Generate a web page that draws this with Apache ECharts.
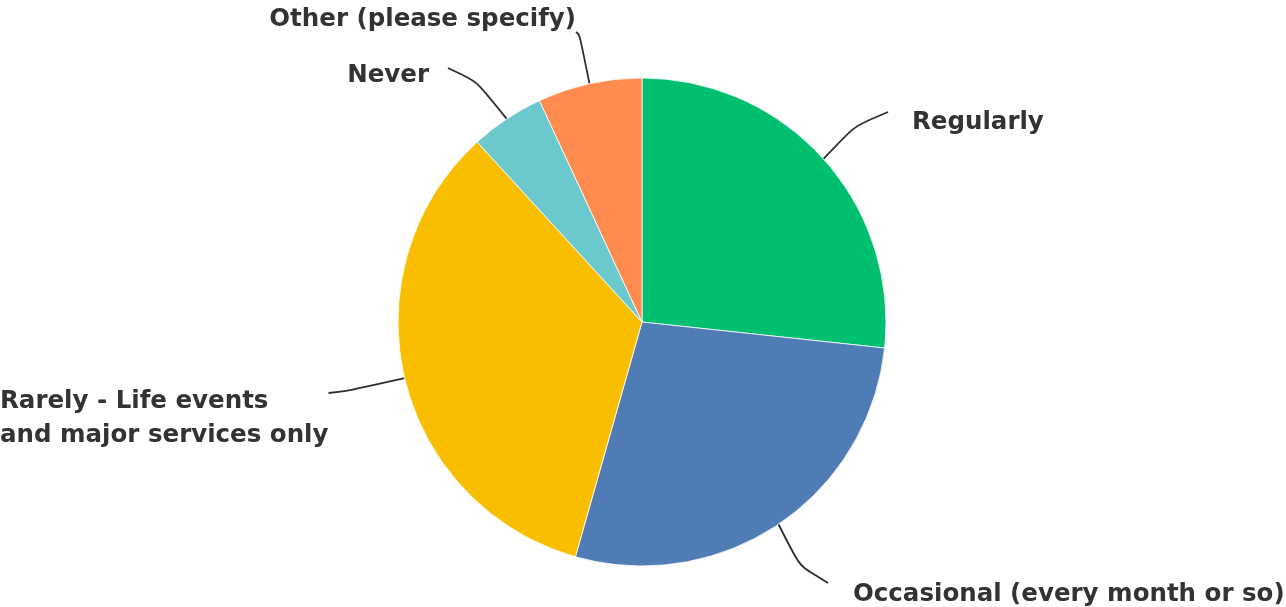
<!DOCTYPE html>
<html>
<head>
<meta charset="utf-8">
<script src="https://cdn.jsdelivr.net/npm/echarts@6/dist/echarts.min.js"></script>
<style>
  html, body { margin: 0; padding: 0; background: #ffffff; }
  #chart { width: 1286px; height: 607px; }
</style>
</head>
<body>
<div id="chart"></div>
<script>
// Answer options and share of responses (percent)
const categories = [
  'Regularly',
  'Occasional (every month or so)',
  'Rarely - Life events\nand major services only',
  'Never',
  'Other (please specify)'
];
const shares = [26.7, 27.7, 33.8, 4.9, 6.9];
const colors = ['#00BF6F', '#507CB6', '#F9BE00', '#6BC8CD', '#FF8B4F'];

// Label boxes (top-anchored); uneven padding sets where the leader line meets each box
const labelSpots = [
  { x: 888, y: 84.5, align: 'left',  padding: [21, 0, 0, 24], tail: 20 },
  { x: 828, y: 554,  align: 'left',  padding: [24, 0, 0, 25], tail: 20 },
  { x: 0,   y: 333,  align: 'left',  padding: [52, 0, 0, 0],  tail: 10 },
  { x: 448, y: 43.7, align: 'right', padding: [14.6, 19, 0, 0], tail: 18 },
  { x: 576, y: 3,    align: 'right', padding: [0, 0, 24, 0],  tail: 3 }
];

const chart = echarts.init(document.getElementById('chart'), null, { renderer: 'canvas' });

chart.setOption({
  animation: false,
  series: [{
    type: 'pie',
    center: [642, 322],
    radius: 244,
    startAngle: 90,
    clockwise: true,
    avoidLabelOverlap: false,
    itemStyle: { borderColor: '#ffffff', borderWidth: 0.8 },
    label: {
      show: true,
      color: '#333333',
      fontFamily: 'DejaVu Sans',
      fontWeight: 'bold',
      fontSize: 24.5,
      lineHeight: 34
    },
    labelLine: {
      show: true,
      length: 20,
      length2: 10,
      smooth: 1,
      lineStyle: { color: '#2e2e2e', width: 1.8 }
    },
    labelLayout: function (params) {
      const s = labelSpots[params.dataIndex];
      return { x: s.x, y: s.y, align: s.align, verticalAlign: 'top' };
    },
    data: categories.map(function (name, i) {
      return {
        name: name,
        value: shares[i],
        itemStyle: { color: colors[i] },
        label: { padding: labelSpots[i].padding },
        labelLine: { length2: labelSpots[i].tail }
      };
    })
  }]
});
</script>
</body>
</html>
